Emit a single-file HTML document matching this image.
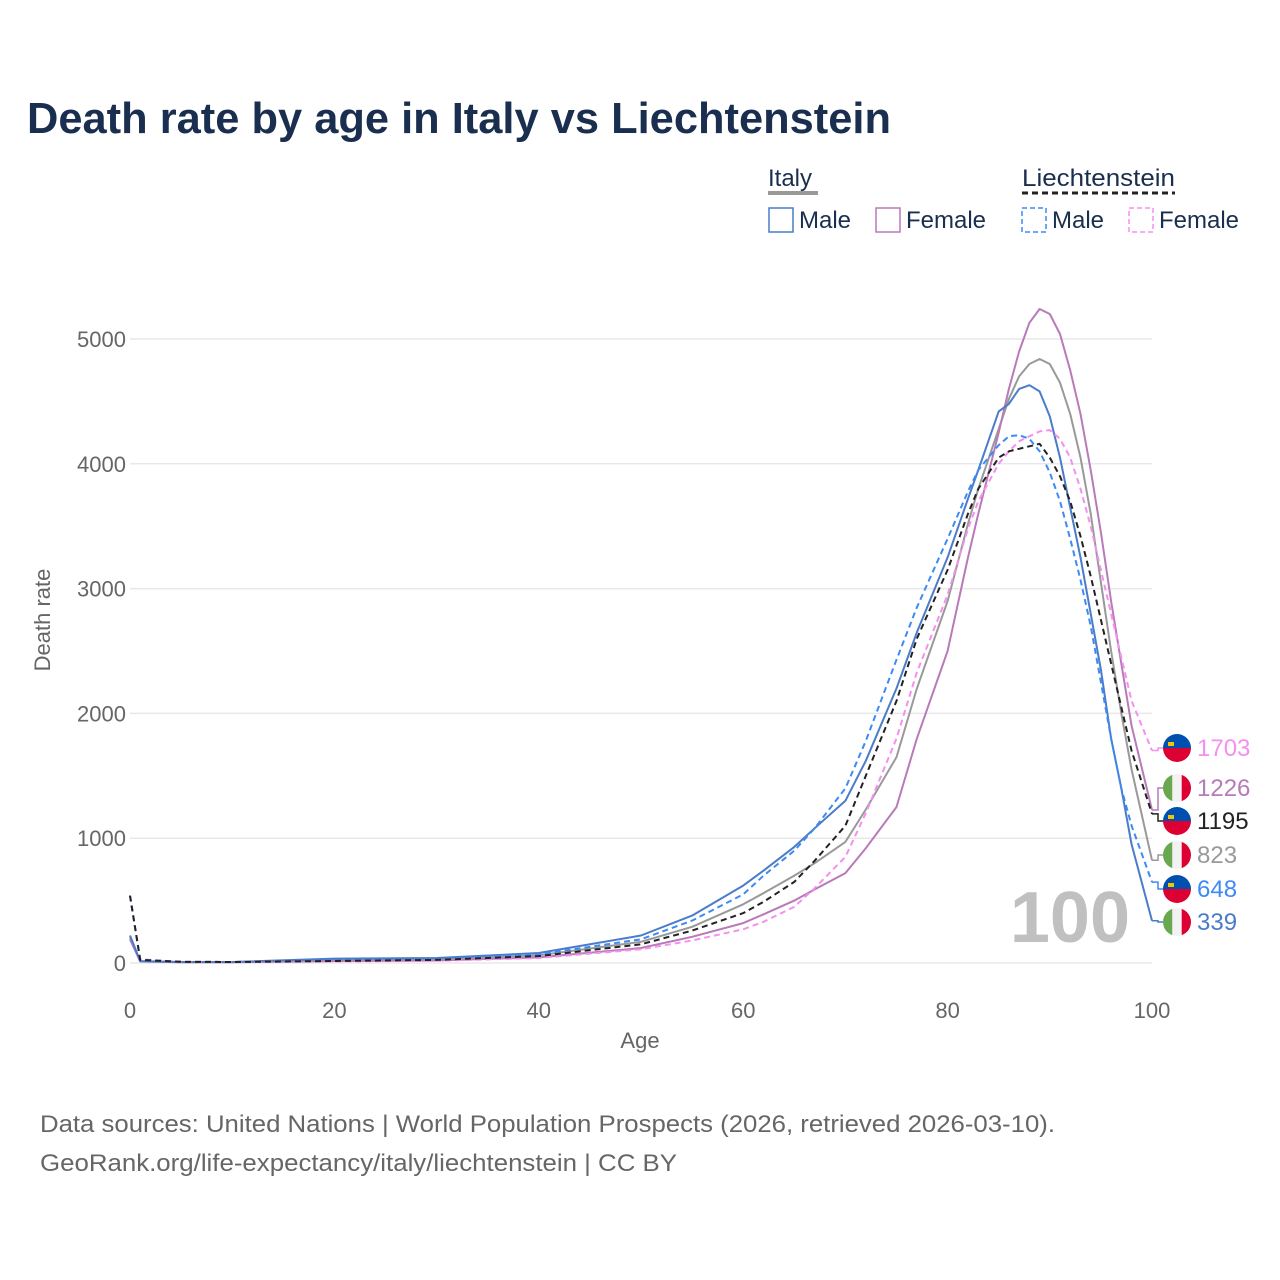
<!DOCTYPE html>
<html><head><meta charset="utf-8"><style>
body{margin:0;background:#fff}
svg{display:block;font-family:"Liberation Sans",sans-serif}
</style></head><body>
<svg id="chart" width="1280" height="1280" viewBox="0 0 1280 1280">
<defs id="defs"></defs>
<text x="27" y="133" font-size="44" font-weight="bold" fill="#1a2e4f" textLength="864" lengthAdjust="spacingAndGlyphs">Death rate by age in Italy vs Liechtenstein</text>
<g>
<text x="768" y="186" font-size="24" fill="#1a2e4f">Italy</text>
<line x1="768" y1="193" x2="818" y2="193" stroke="#999" stroke-width="4"/>
<text x="1022" y="186" font-size="24" fill="#1a2e4f" textLength="153" lengthAdjust="spacingAndGlyphs">Liechtenstein</text>
<line x1="1022" y1="193" x2="1175" y2="193" stroke="#222" stroke-width="3" stroke-dasharray="6,4"/>
<g><rect x="769" y="208" width="24" height="24" fill="none" stroke="#4a7cc9" stroke-width="1.5"/><text x="799" y="228" font-size="24" fill="#1a2e4f">Male</text></g>
<g><rect x="876" y="208" width="24" height="24" fill="none" stroke="#b87ab8" stroke-width="1.5"/><text x="906" y="228" font-size="24" fill="#1a2e4f">Female</text></g>
<g><rect x="1022" y="208" width="24" height="24" fill="none" stroke="#3d8af7" stroke-width="1.5" stroke-dasharray="5,3"/><text x="1052" y="228" font-size="24" fill="#1a2e4f">Male</text></g>
<g><rect x="1129" y="208" width="24" height="24" fill="none" stroke="#f58ff0" stroke-width="1.5" stroke-dasharray="5,3"/><text x="1159" y="228" font-size="24" fill="#1a2e4f">Female</text></g>
</g>
<g id="grid"></g>
<text x="1130" y="942" font-size="72" font-weight="bold" fill="#c0c0c0" text-anchor="end">100</text>
<g id="series"></g>
<g id="labels"></g>
<text x="640" y="1048" font-size="22" fill="#666" text-anchor="middle">Age</text>
<text transform="translate(50,620) rotate(-90)" font-size="22" fill="#666" text-anchor="middle">Death rate</text>
<text x="40" y="1132" font-size="24" fill="#666" textLength="1015" lengthAdjust="spacingAndGlyphs">Data sources: United Nations | World Population Prospects (2026, retrieved 2026-03-10).</text>
<text x="40" y="1171" font-size="24" fill="#666" textLength="637" lengthAdjust="spacingAndGlyphs">GeoRank.org/life-expectancy/italy/liechtenstein | CC BY</text>
</svg>
<script>
const ages=[0,1,5,10,20,30,40,50,55,60,62,65,67,70,72,75,77,80,82,83,85,86,87,88,89,90,91,92,93,94,95,96,97,98,100];
const italyMale=[220,15,8,8,35,40,80,220,380,620,740,930,1080,1300,1620,2200,2650,3250,3720,3950,4420,4480,4600,4630,4580,4380,4050,3650,3250,2800,2350,1800,1400,950,339];
const italyFemale=[190,12,6,6,15,20,45,120,210,320,390,500,590,720,920,1250,1800,2500,3250,3600,4250,4600,4900,5130,5240,5200,5040,4750,4400,3950,3450,2900,2400,1900,1226];
const italyTotal=[205,14,7,7,25,30,62,170,290,470,560,700,800,970,1230,1650,2200,2900,3520,3800,4280,4520,4700,4800,4840,4800,4650,4400,4050,3600,3050,2500,2000,1550,823];
const liechMale=[540,25,10,8,20,30,70,190,340,550,700,900,1080,1400,1780,2430,2850,3400,3780,3950,4150,4220,4230,4200,4100,3930,3700,3400,3070,2700,2250,1800,1400,1100,648];
const liechFemale=[540,30,10,8,12,18,40,110,180,270,330,450,600,850,1200,1800,2330,2950,3480,3700,4000,4100,4180,4220,4260,4270,4200,4050,3800,3500,3150,2800,2450,2100,1703];
const liechTotal=[540,25,10,8,16,25,55,150,260,400,490,650,820,1100,1500,2100,2600,3150,3600,3800,4050,4100,4120,4140,4160,4050,3900,3700,3420,3100,2750,2400,2050,1700,1195];
const yTicks=[0,1000,2000,3000,4000,5000];
const xTicks=[0,20,40,60,80,100];
const NS="http://www.w3.org/2000/svg";
const X=a=>130+a*10.22, Y=v=>963-v*0.1248;
function mk(t,at,p){const e=document.createElementNS(NS,t);for(const k in at)e.setAttribute(k,at[k]);p.appendChild(e);return e;}
const grid=document.getElementById('grid');
yTicks.forEach(v=>{
 const l=mk('line',{x1:130,x2:1152,y1:Y(v),y2:Y(v),stroke:'#e8e8e8','stroke-width':1.5},grid);
 
 
 const t=mk('text',{x:126,y:Y(v)+8,'font-size':22,fill:'#666','text-anchor':'end'},grid);t.textContent=v;
 
 
});
xTicks.forEach(v=>{
 const t=mk('text',{x:X(v),y:1018,'font-size':22,fill:'#666','text-anchor':'middle'},grid);t.textContent=v;
 
 
});
const series=[
 {d:italyTotal,c:'#999',dash:null,n:'italy-total',ly:855,flag:'it'},
 {d:italyFemale,c:'#b87ab8',dash:null,n:'italy-female',ly:788,flag:'it'},
 {d:italyMale,c:'#4a7cc9',dash:null,n:'italy-male',ly:922,flag:'it'},
 {d:liechFemale,c:'#f58ff0',dash:'6,4',n:'liechtenstein-female',ly:748,flag:'li'},
 {d:liechMale,c:'#3d8af7',dash:'6,4',n:'liechtenstein-male',ly:889,flag:'li'},
 {d:liechTotal,c:'#222',dash:'6,4',n:'liechtenstein-total',ly:821,flag:'li'}
];
const defs=document.getElementById('defs');
const sg=document.getElementById('series'), lg=document.getElementById('labels');
series.forEach((s,i)=>{
 const p=mk('path',{d:'M'+ages.map((a,j)=>X(a).toFixed(1)+','+Y(s.d[j]).toFixed(1)).join('L'),fill:'none',stroke:s.c,'stroke-width':2,'stroke-linejoin':'round'},sg);
 if(s.dash)p.setAttribute('stroke-dasharray',s.dash);
 
 
 const end=s.d[s.d.length-1];
 mk('path',{d:`M1152,${Y(end)}L1158,${Y(end)}L1158,${s.ly}L1164,${s.ly}`,fill:'none',stroke:s.c,'stroke-width':1.5},lg);
 const g=mk('g',{},lg);
 
 
 const cx=1177,cy=s.ly;
 const cp=mk('clipPath',{id:'flag'+i},defs);
 mk('circle',{cx:cx,cy:cy,r:14},cp);
 const fg=mk('g',{'clip-path':'url(#flag'+i+')'},g);
 if(s.flag==='it'){
  mk('rect',{x:cx-14,y:cy-14,width:9.4,height:28,fill:'#6aa84f'},fg);
  mk('rect',{x:cx-4.7,y:cy-14,width:9.4,height:28,fill:'#f2f2f2'},fg);
  mk('rect',{x:cx+4.7,y:cy-14,width:9.4,height:28,fill:'#dd0033'},fg);
 } else {
  mk('rect',{x:cx-14,y:cy-14,width:28,height:14,fill:'#0050b0'},fg);
  mk('rect',{x:cx-14,y:cy,width:28,height:14,fill:'#dd0033'},fg);
  mk('rect',{x:cx-9,y:cy-6,width:6,height:4,fill:'#f5c400'},fg);
 }
 const t=mk('text',{x:1197,y:s.ly+8,'font-size':24,fill:s.c},g);t.textContent=end;
});
</script>
</body></html>
